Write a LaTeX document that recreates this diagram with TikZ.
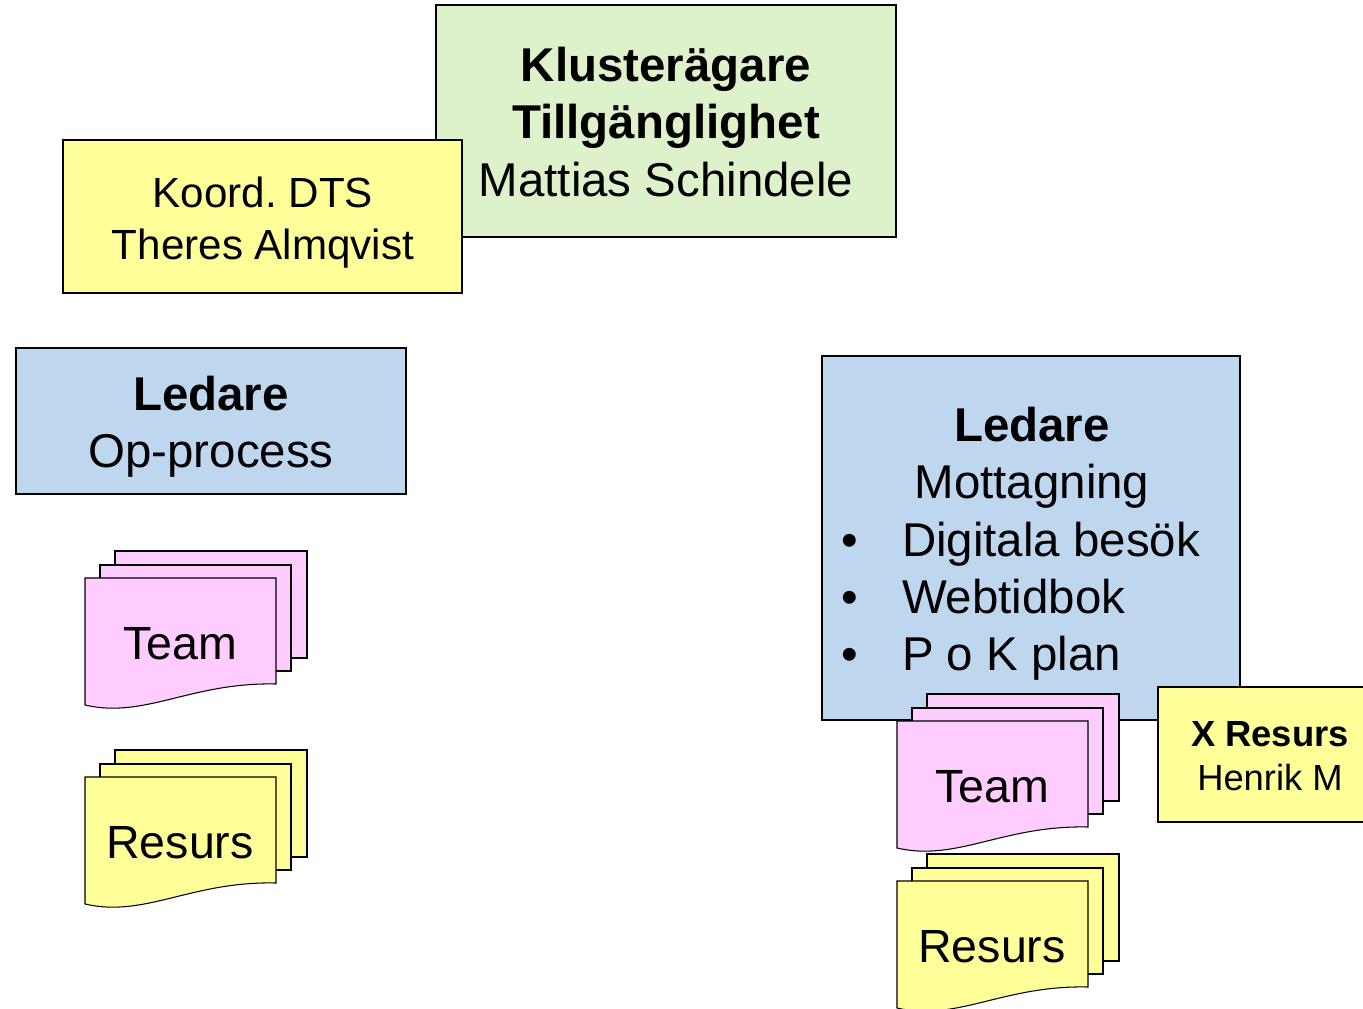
\documentclass[tikz,border=0pt]{standalone}
\usepackage{fontspec}
\setmainfont{Liberation Sans}
\frenchspacing
\definecolor{ownergreen}{RGB}{221,241,202}
\definecolor{leadblue}{RGB}{190,215,238}
\definecolor{noteyellow}{RGB}{255,255,153}
\definecolor{teampink}{RGB}{255,204,255}
\begin{document}
\begin{tikzpicture}[x=0.02cm,y=-0.02cm,line width=0.6pt,
	big/.style={font=\fontsize{27}{32.5}\selectfont,align=center,inner sep=0pt},
	mid/.style={font=\fontsize{24}{29.5}\selectfont,align=center,inner sep=0pt},
	small/.style={font=\fontsize{20.7}{25}\selectfont,align=center,inner sep=0pt},
	doc/.style={font=\fontsize{26.5}{30}\selectfont,inner sep=0pt}]
	\useasboundingbox (0,0) rectangle (1363,1008);
	% top boxes
	\draw[fill=ownergreen] (436,5) rectangle (896,237);
	\node[big] (owner) at (666,122) {\textbf{Klusterägare}\\\textbf{Tillgänglighet}\\Mattias Schindele};
	\draw[fill=noteyellow] (63,140) rectangle (462,293);
	\node[mid] (koord) at (263,223) {Koord. DTS\\Theres Almqvist};
	% left leader
	\draw[fill=leadblue] (16,348) rectangle (406,494);
	\node[big] (ledop) at (211,427) {\textbf{Ledare}\\Op-process};
	% right leader
	\draw[fill=leadblue] (822,356) rectangle (1240,720);
	\node[big] (ledmo) at (1032,458) {\textbf{Ledare}\\Mottagning};
	\node[big,align=left,anchor=west] (tasks) at (841,601) {\textbullet\hspace{25pt}Digitala besök\\\textbullet\hspace{25pt}Webtidbok\\\textbullet\hspace{25pt}P o K plan};
	% stacked sheets
	\foreach \x/\y/\col/\txt/\nm in {85/578/teampink/Team/teamop,85/777/noteyellow/Resurs/resop,
		897/721/teampink/Team/teammo,897/881/noteyellow/Resurs/resmo} {
		\draw[fill=\col] (\x+30,\y-27) rectangle +(192,107);
		\draw[fill=\col] (\x+15,\y-13) rectangle +(191,106);
		\draw[fill=\col] (\x,\y) -- ++(191,0) -- ++(0,106)
			.. controls +(-85,-2) and +(60,14) .. (\x,\y+127) -- cycle;
		\node[doc] (\nm) at (\x+95,\y+66) {\txt};
	}
	% extra resource
	\draw[fill=noteyellow] (1158,687) rectangle (1372,822);
	\node[small] (xres) at (1270,756) {\textbf{X Resurs}\\Henrik M};
\end{tikzpicture}
\end{document}
